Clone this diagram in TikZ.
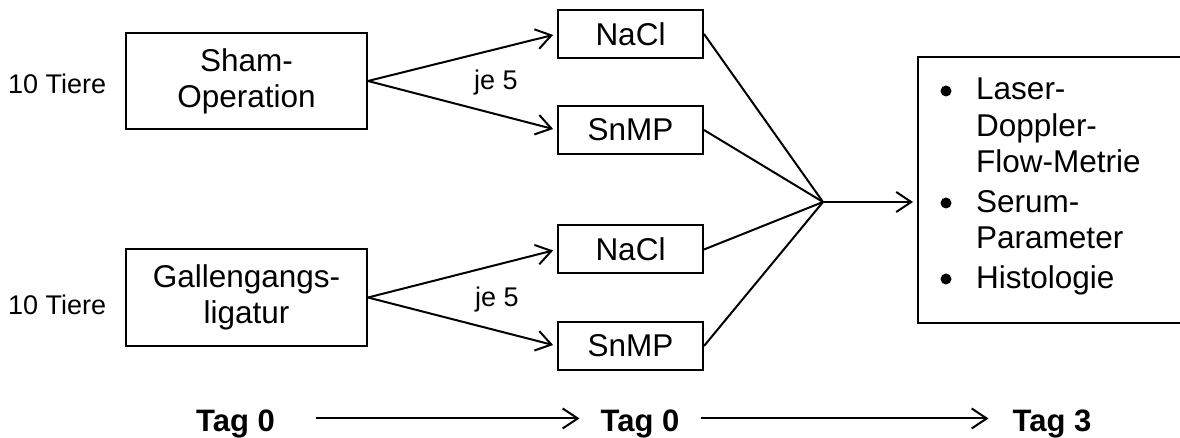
\documentclass[tikz,border=0pt]{standalone}
\usepackage{fontspec}
\setmainfont{Liberation Sans}
\usetikzlibrary{arrows.meta}
\begin{document}
\begin{tikzpicture}[x=1pt,y=-1pt,
  box/.style={draw, line width=2pt, inner sep=0pt, align=center,
    font=\fontsize{31.5}{36}\selectfont},
  lbl/.style={inner sep=0pt, anchor=base west, font=\fontsize{27}{30}\selectfont},
  tag/.style={inner sep=0pt, anchor=base, font=\fontsize{31}{36}\selectfont\bfseries},
  item/.style={inner sep=0pt, anchor=base west, font=\fontsize{31.5}{36}\selectfont},
  arr/.style={line width=2pt, -{Straight Barb[length=15pt,width=20pt]}},
  con/.style={line width=2pt}]
\clip (0,0) rectangle (1180,438);
% left boxes
\node[box, minimum width=241pt, minimum height=96pt] (sham) at (246.5,81) {Sham-\\Operation};
\node[box, minimum width=241pt, minimum height=97pt] (gall) at (246.5,297.5) {Gallengangs-\\ligatur};
\node[lbl] (t10a) at (8,94) {10 Tiere};
\node[lbl] (t10b) at (8,314) {10 Tiere};
% treatment boxes
\node[box, minimum width=145pt, minimum height=48pt] (n1) at (630.5,34) {NaCl};
\node[box, minimum width=145pt, minimum height=48pt] (s1) at (630.5,130) {SnMP};
\node[box, minimum width=145pt, minimum height=48pt] (n2) at (630.5,249.5) {NaCl};
\node[box, minimum width=145pt, minimum height=48pt] (s2) at (630.5,346) {SnMP};
\node[lbl] (je1) at (474,90) {je 5};
\node[lbl] (je2) at (475,306) {je 5};
% arrows to treatments
\draw[arr, shorten >=4pt] (sham.east) -- (n1.west);
\draw[arr, shorten >=4pt] (sham.east) -- (s1.west);
\draw[arr, shorten >=4pt] (gall.east) -- (n2.west);
\draw[arr, shorten >=4pt] (gall.east) -- (s2.west);
% convergence
\coordinate (m) at (823,202);
\draw[con] (n1.east) -- (m);
\draw[con] (s1.east) -- (m);
\draw[con] (n2.east) -- (m);
\draw[con] (s2.east) -- (m);
% result box
\node[draw, line width=2pt, inner sep=0pt, minimum width=272pt, minimum height=266pt] (res) at (1054,190) {};
\draw[arr, shorten >=4pt] (m) -- (m -| res.west);
\fill (946,91) circle (5.5pt);
\fill (946,203) circle (5.5pt);
\fill (946,279) circle (5.5pt);
\node[item] (l1) at (976,100) {Laser-};
\node[item] (l2) at (976,137) {Doppler-};
\node[item] (l3) at (976,173) {Flow-Metrie};
\node[item] (l4) at (976,213) {Serum-};
\node[item] (l5) at (976,249) {Parameter};
\node[item] (l6) at (976,288) {Histologie};
% timeline
\node[tag] (ta) at (235.5,431) {Tag 0};
\node[tag] (tb) at (640,431) {Tag 0};
\node[tag] (tc) at (1052,431) {Tag 3};
\draw[arr, shorten <=41pt, shorten >=21pt] ([yshift=5pt]ta.east) -- ([yshift=5pt]tb.west);
\draw[arr, shorten <=21pt, shorten >=24pt] ([yshift=5pt]tb.east) -- ([yshift=5pt]tc.west);
\end{tikzpicture}
\end{document}
